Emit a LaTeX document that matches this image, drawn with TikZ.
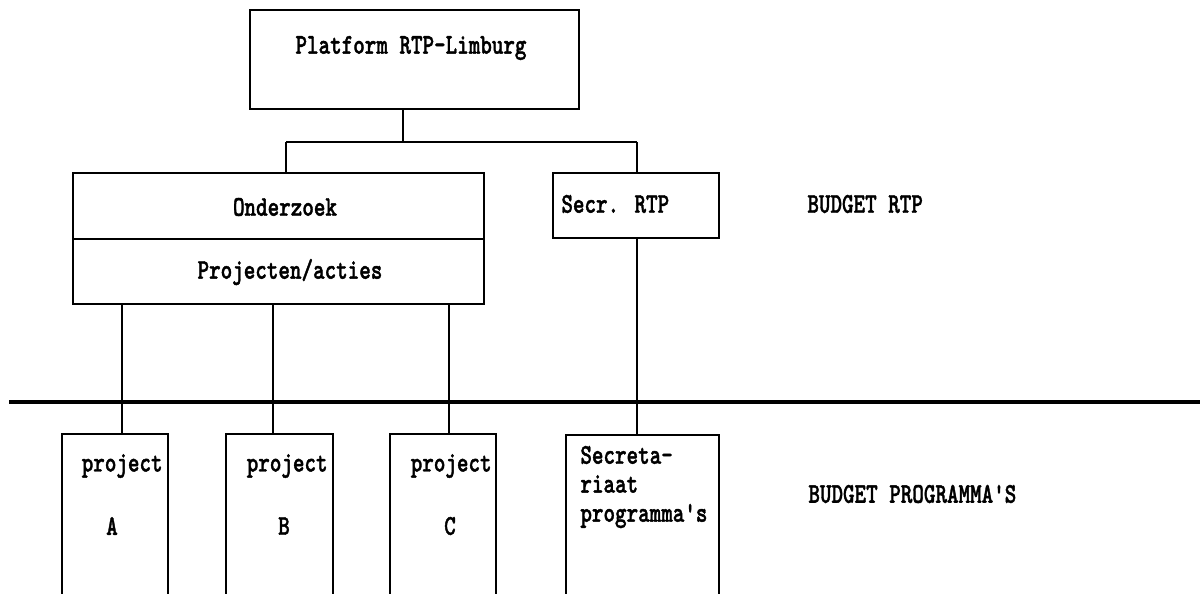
\documentclass[tikz,border=0pt]{standalone}
\usepackage{fontspec}
\usepackage{graphicx}
\newfontfamily\twfont{lmmonolt10-bold.otf}[FakeBold=1.6]
\newcommand{\tw}[1]{\scalebox{1}[1.3]{#1}}
\newcommand{\twsize}{\fontsize{11}{13}\selectfont\twfont}
\usetikzlibrary{fit}
\begin{document}
\begin{tikzpicture}[x=0.5pt,y=-0.5pt,
  box/.style={draw, line width=1.2pt, inner sep=0pt},
  lbl/.style={font=\twsize, inner sep=0pt},
  conn/.style={line width=0.9pt},
  sepline/.style={line width=1.6pt}]
\useasboundingbox (0,0) rectangle (1200,594);
\clip (0,0) rectangle (1200,594);
% corner points
\coordinate (p1) at (250,10);  \coordinate (p2) at (579,109);
\coordinate (o1) at (73,173);  \coordinate (o2) at (484,239);
\coordinate (q1) at (73,239);  \coordinate (q2) at (484,304);
\coordinate (s1) at (553,173); \coordinate (s2) at (719,238);
\coordinate (a1) at (62,434);  \coordinate (a2) at (168,660);
\coordinate (b1) at (226,434); \coordinate (b2) at (333,660);
\coordinate (c1) at (390,434); \coordinate (c2) at (496,660);
\coordinate (d1) at (566,435); \coordinate (d2) at (719,660);
% boxes
\node[box, fit=(p1) (p2)] (plat) {};
\node[box, fit=(o1) (o2)] (ond) {};
\node[box, fit=(q1) (q2)] (proj) {};
\node[box, fit=(s1) (s2)] (secr) {};
\node[box, fit=(a1) (a2)] (pa) {};
\node[box, fit=(b1) (b2)] (pb) {};
\node[box, fit=(c1) (c2)] (pc) {};
\node[box, fit=(d1) (d2)] (pd) {};
% texts
\node[lbl] (tplat) at (411,48) {\tw{Platform RTP-Limburg}};
\node[lbl] (tond) at (285,207) {\tw{Onderzoek}};
\node[lbl] (tproj) at (290,272) {\tw{Projecten/acties}};
\node[lbl, anchor=west] (tsecr) at (561,204) {\tw{Secr. RTP}};
\node[lbl, anchor=west] (tbr) at (807,204) {\tw{BUDGET RTP}};
\node[lbl, anchor=west] (tbp) at (808,494) {\tw{BUDGET PROGRAMMA'S}};
\node[lbl, anchor=east] (tpa) at (163,466) {\tw{project}};
\node[lbl, anchor=east] (tpb) at (328,466) {\tw{project}};
\node[lbl, anchor=east] (tpc) at (492,466) {\tw{project}};
\node[lbl] (ta) at (112,526) {\tw{A}};
\node[lbl] (tb) at (284,526) {\tw{B}};
\node[lbl] (tc) at (450,526) {\tw{C}};
\node[lbl, anchor=west] (tpd1) at (580,455) {\tw{Secreta-}};
\node[lbl, anchor=west] (tpd2) at (580,484) {\tw{riaat}};
\node[lbl, anchor=west] (tpd3) at (580,516) {\tw{programma's}};
% connectors
\coordinate (j) at (403,142);
\coordinate (hl) at (286,142);
\coordinate (hr) at (637,142);
\draw[conn] (j |- plat.south) -- (j);
\draw[conn] (hl) -- (hr);
\draw[conn] (hl) -- (hl |- ond.north);
\draw[conn] (hr) -- (hr |- secr.north);
\draw[conn] (hr |- secr.south) -- (hr |- pd.north);
\coordinate (xa) at (122,0);
\coordinate (xb) at (273,0);
\coordinate (xc) at (449,0);
\draw[conn] (xa |- proj.south) -- (xa |- pa.north);
\draw[conn] (xb |- proj.south) -- (xb |- pb.north);
\draw[conn] (xc |- proj.south) -- (xc |- pc.north);
% separator
\coordinate (sepL) at (9,402);
\coordinate (sepR) at (1200,402);
\draw[sepline] (sepL) -- (sepR);
\end{tikzpicture}
\end{document}
